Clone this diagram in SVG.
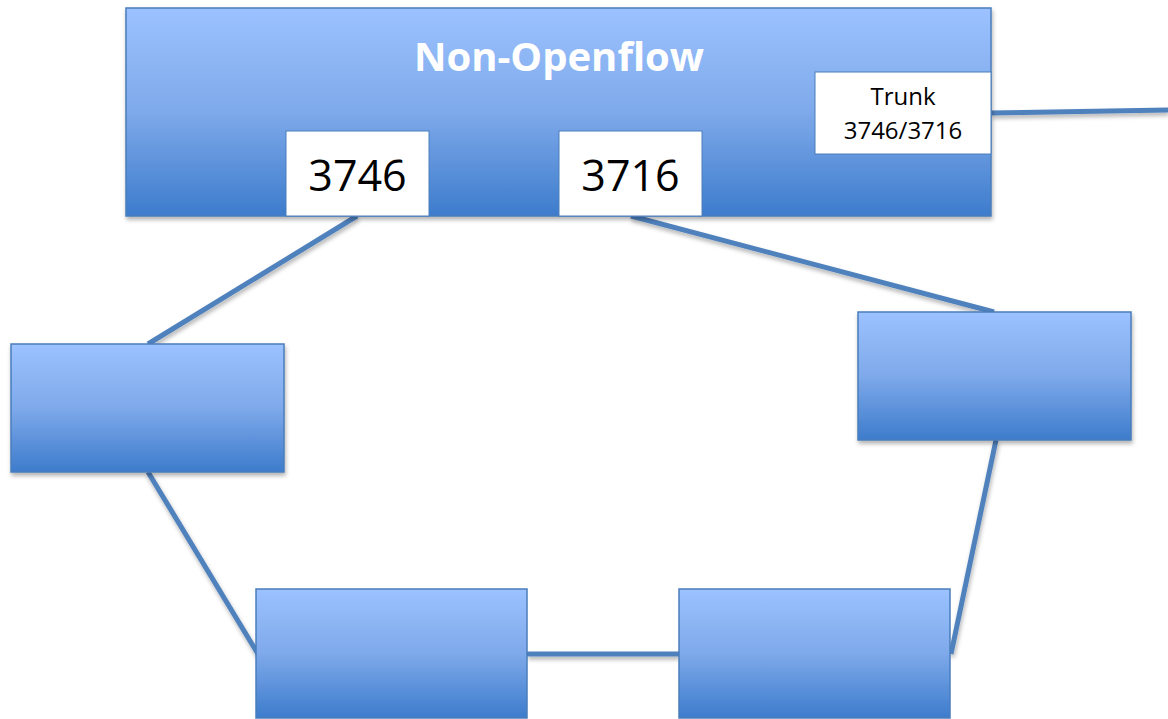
<svg xmlns="http://www.w3.org/2000/svg" width="1168" height="719" viewBox="0 0 1168 719">
<defs>
<linearGradient id="g" x1="0" y1="0" x2="0" y2="1">
<stop offset="0" stop-color="#9cc2ff"/>
<stop offset="0.5" stop-color="#7ea9ea"/>
<stop offset="1" stop-color="#3d7ccc"/>
</linearGradient>
<filter id="sh" x="-5%" y="-5%" width="110%" height="115%">
<feDropShadow dx="1" dy="3" stdDeviation="2" flood-color="#000" flood-opacity="0.3"/>
</filter>
<style>
.box{fill:url(#g);stroke:#4a7ebb;stroke-width:1.5}
.port{fill:#fff;stroke:#4a7ebb;stroke-width:1}
.ln{stroke:#4f81bd;stroke-width:5;fill:none}
.t{font-family:"Open Sans","Liberation Sans",sans-serif;fill:#000;text-anchor:middle}
</style>
</defs>
<g id="connectors" filter="url(#sh)">
<line class="ln" x1="991" y1="113" x2="1168" y2="110"/>
<line class="ln" x1="357" y1="216" x2="148" y2="344"/>
<line class="ln" x1="631" y1="216" x2="994" y2="312"/>
<line class="ln" x1="148" y1="472" x2="258" y2="654"/>
<line class="ln" x1="527" y1="654" x2="679" y2="654"/>
<line class="ln" x1="996" y1="440" x2="951" y2="654"/>
</g>
<g id="nonopenflow">
<rect class="box" x="126" y="8" width="865" height="208" filter="url(#sh)"/>
<text x="559" y="71" font-family="Open Sans, Liberation Sans, sans-serif" font-weight="bold" font-size="40" fill="#fff" text-anchor="middle">Non-Openflow</text>
</g>
<g id="port3746">
<rect class="port" x="286" y="131" width="143" height="85"/>
<text class="t" x="357.5" y="191" font-size="43">3746</text>
</g>
<g id="port3716">
<rect class="port" x="559" y="131" width="143" height="85"/>
<text class="t" x="630.5" y="191" font-size="43">3716</text>
</g>
<g id="trunk">
<rect class="port" x="815" y="72" width="176" height="82"/>
<text class="t" x="903" y="105" font-size="24">Trunk</text>
<text class="t" x="903" y="139" font-size="24">3746/3716</text>
</g>
<g id="sw-left">
<rect class="box" x="11" y="344" width="273" height="128" filter="url(#sh)"/>
</g>
<g id="sw-right">
<rect class="box" x="858" y="312" width="273" height="128" filter="url(#sh)"/>
</g>
<g id="sw-bottom-left">
<rect class="box" x="256" y="589" width="271" height="129"/>
</g>
<g id="sw-bottom-right">
<rect class="box" x="679" y="589" width="271" height="129"/>
</g>
</svg>
